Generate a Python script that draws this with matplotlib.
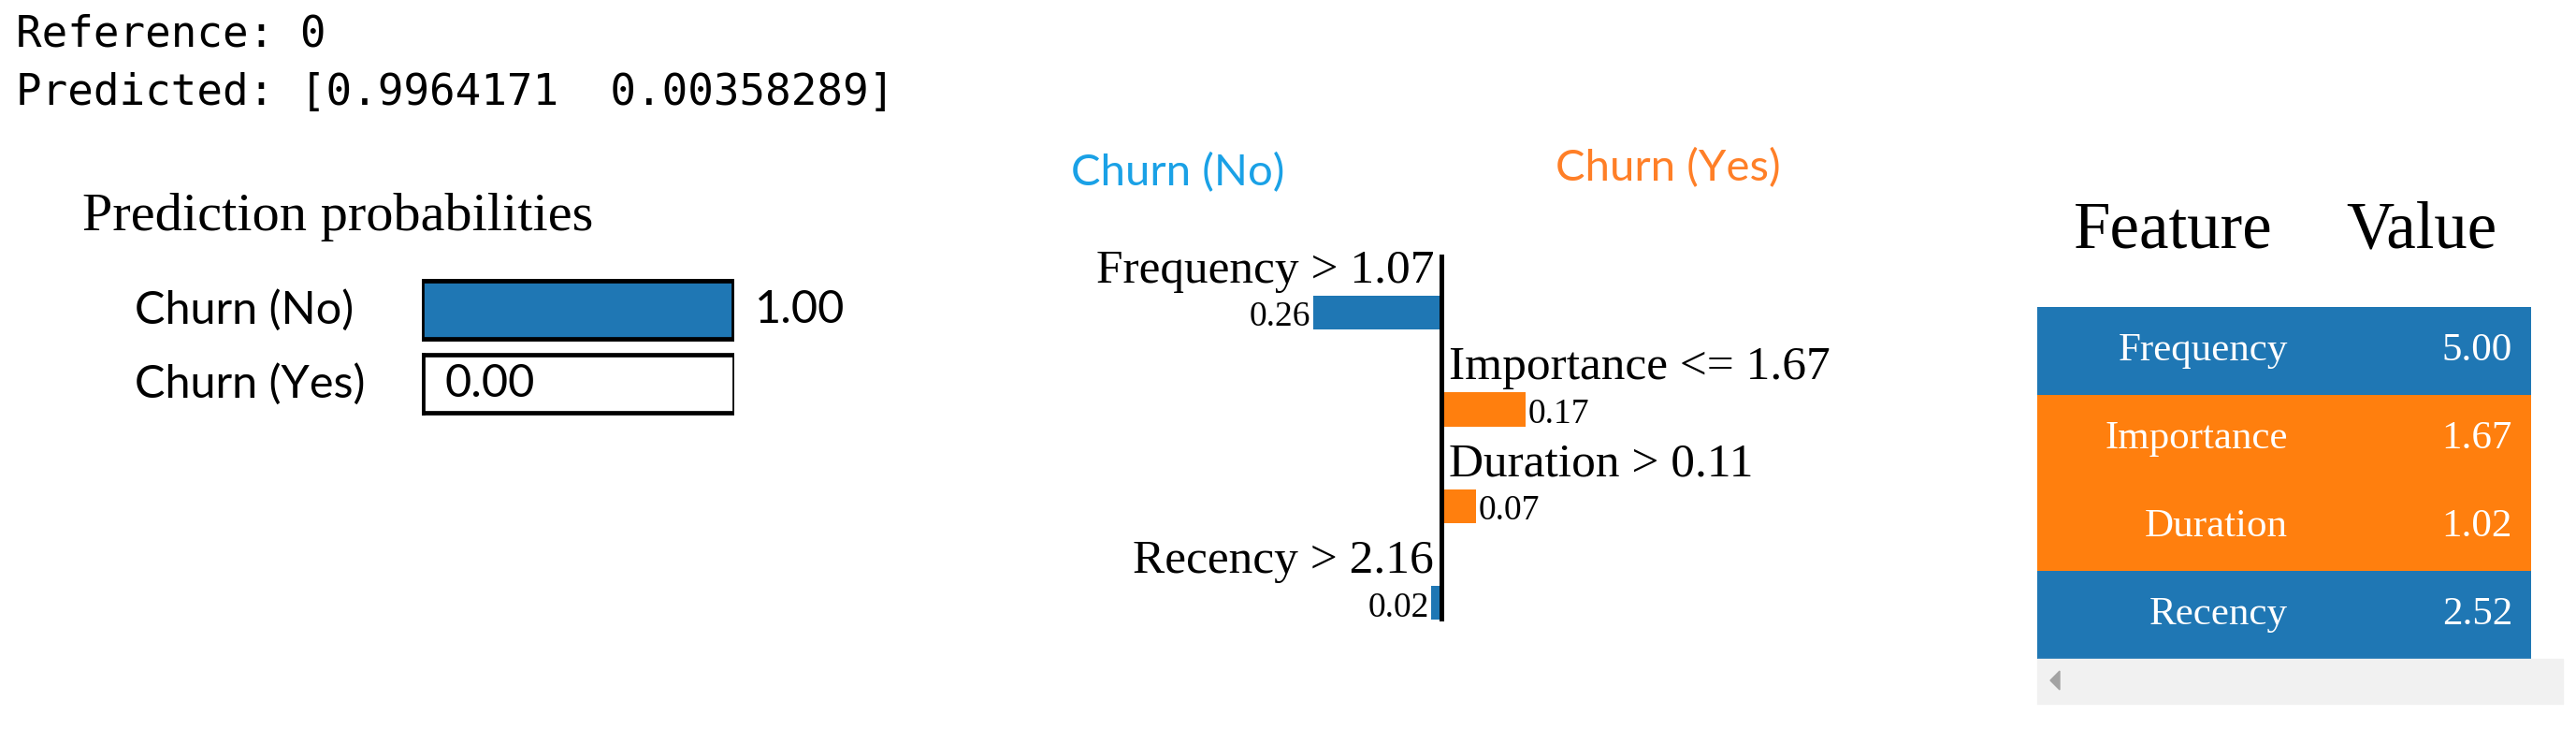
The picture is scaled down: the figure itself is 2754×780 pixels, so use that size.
import matplotlib.pyplot as plt
from matplotlib.patches import Rectangle, Polygon

# values read from the LIME explanation
classes = ["Churn (No)", "Churn (Yes)"]
probs = [0.9964171, 0.00358289]
reference = 0
conditions = ["Frequency > 1.07", "Importance <= 1.67", "Duration > 0.11", "Recency > 2.16"]
weights = [-0.26, 0.17, 0.07, -0.02]
features = ["Frequency", "Importance", "Duration", "Recency"]
feature_values = [5.00, 1.67, 1.02, 2.52]

blue, orange = "#1f77b4", "#ff7f0e"
W, H = 2754, 780

def box(x0, y0, x1, y1):
    # pixel box (top-left origin) -> figure fraction rect
    return [x0 / W, 1 - y1 / H, (x1 - x0) / W, (y1 - y0) / H]

fig = plt.figure(figsize=(W / 100, H / 100), dpi=100)
fig.patch.set_facecolor("white")

mono = dict(family="DejaVu Sans Mono", fontsize=33)
fig.text(17 / W, 1 - 49 / H, f"Reference: {reference}", va="baseline", **mono)
fig.text(17 / W, 1 - 112 / H, f"Predicted: [{probs[0]}  {probs[1]}]", va="baseline", **mono)

serif = "Liberation Serif"
sans = "Lato"

# prediction probabilities
fig.text(88 / W, 1 - 246 / H, "Prediction probabilities", family=serif, fontsize=42, va="baseline")
ax1 = fig.add_axes(box(451, 291.5, 785, 449.5))
ypos = range(len(classes))
ax1.barh(ypos, [1] * len(classes), height=0.785, color="white", edgecolor="black", linewidth=3.4)
ax1.barh(ypos, probs, height=0.785, color=[blue, orange], edgecolor="black", linewidth=3.4)
for i, (c, p) in enumerate(zip(classes, probs)):
    ax1.text(-0.92, i, c, ha="left", va="center", family=sans, fontsize=35)
    ax1.text(p + 0.069, i, f"{p:.2f}", ha="left", va="center", family=sans, fontsize=35)
ax1.set_xlim(0, 1)
ax1.set_ylim(1.5, -0.5)
ax1.axis("off")

# feature weights
fig.text(1145 / W, 1 - 185 / H, classes[0], color="#1aa1e6", family=sans, fontsize=34, va="center")
fig.text(1663 / W, 1 - 180 / H, classes[1], color="#ff7f27", family=sans, fontsize=34, va="center")
ax2 = fig.add_axes(box(1277.5, 272, 1909.9, 664))
cols = [orange if w > 0 else blue for w in weights]
ax2.barh(range(len(weights)), weights, height=0.35, color=cols)
ax2.axvline(0, color="black", linewidth=3.6)
for i, (t, w) in enumerate(zip(conditions, weights)):
    if w < 0:
        ax2.text(-0.015, i - 0.43, t, ha="right", va="center", family=serif, fontsize=37)
        ax2.text(w - 0.005, i + 0.05, f"{abs(w):.2f}", ha="right", va="center", family=serif, fontsize=27)
    else:
        ax2.text(0.015, i - 0.43, t, ha="left", va="center", family=serif, fontsize=37)
        ax2.text(w + 0.005, i + 0.05, f"{abs(w):.2f}", ha="left", va="center", family=serif, fontsize=27)
ax2.set_xlim(-0.5, 0.7)
ax2.set_ylim(3.19, -0.6)
ax2.axis("off")

# feature / value table
ax3 = fig.add_axes(box(2178, 328, 2706, 704))
ax3.barh(range(len(features)), [1] * len(features), height=1.0, color=cols)
for i, (f, v) in enumerate(zip(features, feature_values)):
    ax3.text(0.508, i, f, ha="right", va="center", color="white", family=serif, fontsize=31)
    ax3.text(0.962, i, f"{v:.2f}", ha="right", va="center", color="white", family=serif, fontsize=31)
ax3.text(0.276, -1.36, "Feature", ha="center", va="center", family=serif, fontsize=51)
ax3.text(0.778, -1.36, "Value", ha="center", va="center", family=serif, fontsize=51)
ax3.set_xlim(0, 1)
ax3.set_ylim(3.5, -0.5)
ax3.axis("off")

# scrollbar strip under the table
fig.patches.append(Rectangle((2178 / W, 1 - 752 / H), 562 / W, 48 / H,
                             transform=fig.transFigure, color="#f1f1f1"))
fig.patches.append(Polygon([(2192 / W, 1 - 727 / H), (2202 / W, 1 - 717 / H), (2202 / W, 1 - 737 / H)],
                           closed=True, transform=fig.transFigure, color="#a3a3a3"))

fig.savefig("out.png", dpi=100)
